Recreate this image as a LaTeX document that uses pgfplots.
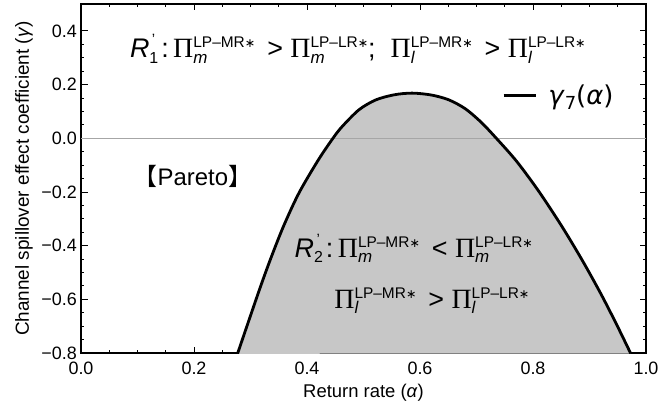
\documentclass[border=0pt]{standalone}
\usepackage{fontspec}
\setmainfont{Liberation Sans}
\newfontfamily\cjk{Noto Sans CJK SC}
\newfontfamily\serifPi{Liberation Serif}
\newfontfamily\dejavu{DejaVu Sans}
\usepackage{pgfplots}
\pgfplotsset{compat=1.18}
\newcommand{\Pix}[2]{{\serifPi\fontsize{28}{28}\selectfont Π}\rlap{\raisebox{-5.5bp}{\fontsize{17}{17}\selectfont\itshape #1}}\raisebox{10bp}{\fontsize{15.5}{16}\selectfont #2{\dejavu\fontsize{12.5}{12}\selectfont ∗}}}
\newcommand{\Rx}[1]{{\itshape R}\rlap{\raisebox{-5.5bp}{\fontsize{16}{16}\selectfont #1}}\raisebox{13bp}{\fontsize{15}{15}\selectfont\,'}\hspace{6bp}}
\pgfplotstableread{
x y
0.277 -0.803
0.315 -0.569
0.336 -0.447
0.359 -0.325
0.386 -0.203
0.420 -0.081
0.446 0.000
0.462 0.043
0.492 0.106
0.522 0.143
0.555 0.162
0.586 0.168
0.620 0.161
0.651 0.143
0.680 0.110
0.708 0.060
0.735 0.000
0.771 -0.086
0.810 -0.197
0.851 -0.328
0.887 -0.454
0.920 -0.579
0.948 -0.694
0.973 -0.802
}\gammaseven
\begin{document}
\begin{tikzpicture}
\begin{axis}[
  scale only axis, width=565bp, height=349bp,
  xmin=0, xmax=1, ymin=-0.8, ymax=0.5,
  xtick={0,0.2,0.4,0.6,0.8,1}, xticklabels={0.0,0.2,0.4,0.6,0.8,1.0},
  ytick={-0.8,-0.6,-0.4,-0.2,0,0.2,0.4},
  yticklabels={−0.8,−0.6,−0.4,−0.2,0.0,0.2,0.4},
  minor x tick num=3, minor y tick num=3,
  tick align=inside, major tick length=6.5bp, minor tick length=3.5bp,
  tick style={black, line width=0.8bp},
  axis line style={line width=1.4bp},
  yticklabel style={font=\fontsize{18}{20}\selectfont, inner sep=1bp, xshift=-3bp},
  xticklabel style={font=\fontsize{18}{20}\selectfont, inner sep=1bp, yshift=-8bp},
  xlabel={\fontsize{18.5}{20}\selectfont Return rate (\textit{α})},
  ylabel={\fontsize{19}{20}\selectfont Channel spillover effect coefficient (\textit{γ})},
  xlabel style={at={(axis description cs:0.5,-0.1146)}, anchor=center},
  ylabel style={at={(axis description cs:-0.1009,0.5)}, anchor=center},
  legend style={at={(axis cs:0.745,0.158)}, anchor=west, draw=none, fill=none,
    font=\dejavu\fontsize{26}{28}\selectfont, inner sep=0pt},
  legend image code/.code={\draw[black, line width=3.2bp] (0bp,0bp) -- (32bp,0bp);},
]
\addplot[fill=black!22, draw=none, smooth, forget plot] table {\gammaseven};
\addplot[gray!70, line width=0.6bp, forget plot] coordinates {(0,0) (1,0)};
\addplot[black, line width=2.8bp, smooth] table {\gammaseven};
\addlegendentry{\hspace{9bp}\textit{γ}\raisebox{-4.5bp}{\fontsize{18}{18}\selectfont 7}(\textit{α})}
\node[font=\fontsize{27}{28}\selectfont] at (axis cs:0.49,0.333)
  {\Rx{1}:\,\Pix{m}{LP–MR}\, > \Pix{m}{LP–LR};\ \ \Pix{l}{LP–MR}\, > \Pix{l}{LP–LR}};
\node[font=\fontsize{27}{28}\selectfont] at (axis cs:0.589,-0.41)
  {\Rx{2}:\,\Pix{m}{LP–MR}\, < \Pix{m}{LP–LR}};
\node[font=\fontsize{27}{28}\selectfont] at (axis cs:0.621,-0.605)
  {\Pix{l}{LP–MR}\, > \Pix{l}{LP–LR}};
\node[font=\fontsize{24}{26}\selectfont] at (axis cs:0.198,-0.143)
  {{\cjk 【}Pareto{\cjk 】}};
\end{axis}
\pgfresetboundingbox
\path ([shift={(-81bp,-54bp)}]current axis.south west) rectangle ([shift={(24bp,4bp)}]current axis.north east);
\end{tikzpicture}
\end{document}
